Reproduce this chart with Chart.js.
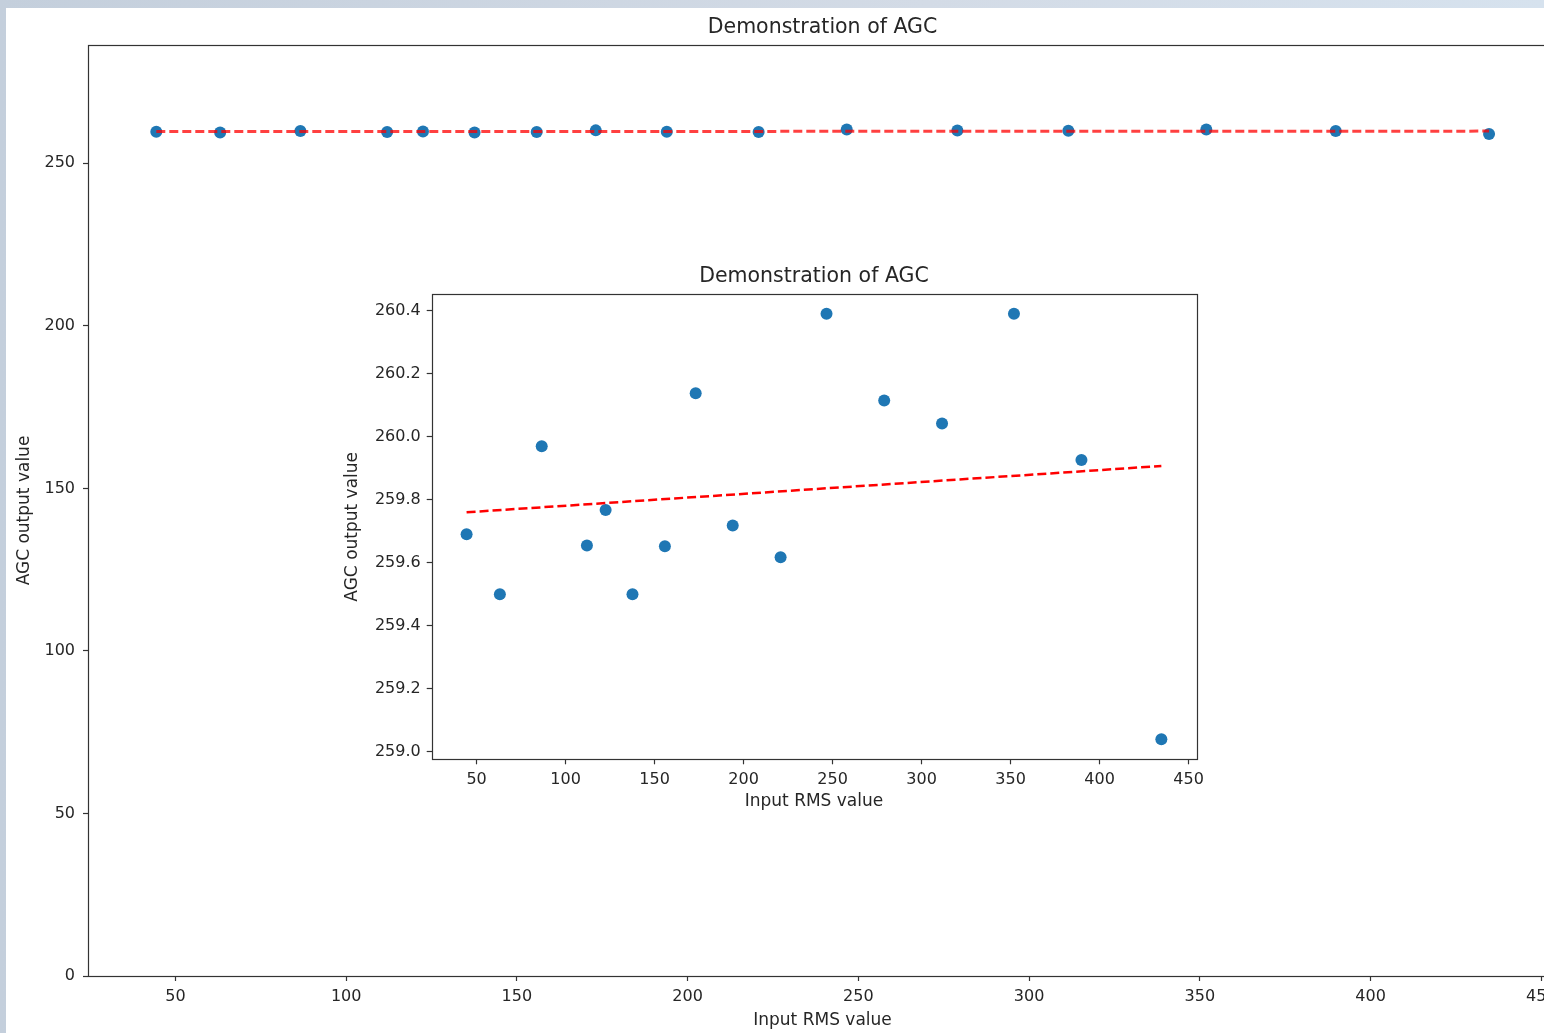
<!DOCTYPE html>
<html>
<head>
<meta charset="utf-8">
<script src="https://cdn.jsdelivr.net/npm/chart.js@4"></script>
<style>
  html, body { margin: 0; padding: 0; overflow: hidden; width: 1544px; height: 1033px; }
  body { background: linear-gradient(90deg, #c4cfdc 0%, #d3dbe6 60%, #d6e2ee 100%); position: relative; }
  #panel { position: absolute; left: 6px; top: 8px; width: 1600px; height: 1100px; background: #fff; }
  #mainChart { position: absolute; left: 0; top: 0; }
  #insetChart { position: absolute; left: 330px; top: 255px; }
</style>
</head>
<body>
<div id="panel"></div>
<canvas id="mainChart" width="1580" height="1033"></canvas>
<canvas id="insetChart" width="880" height="560"></canvas>
<script>
// Input RMS values (x) and the AGC output for each (y)
const inputRms = [44.4, 63.1, 86.6, 112.0, 122.5, 137.6, 155.8, 173.1, 193.9, 220.8, 246.6, 279.0, 311.5, 351.9, 389.8, 434.7];
const agcOutput = [259.69, 259.50, 259.97, 259.655, 259.767, 259.50, 259.652, 260.138, 259.718, 259.617, 260.39, 260.115, 260.042, 260.39, 259.926, 259.04];

// fitted trend line at both ends
const fitX = [44.4, 434.7];
const fitY = [259.76, 259.907];

// tick labels
const xTicks = [50, 100, 150, 200, 250, 300, 350, 400, 450];
const mainYTicks = [0, 50, 100, 150, 200, 250];
const insetYTicks = [259.0, 259.2, 259.4, 259.6, 259.8, 260.0, 260.2, 260.4];

const textColor = '#262626';
const axisColor = '#333';
const fontFamily = "'DejaVu Sans', sans-serif";

const pointsOf = (xs, ys) => xs.map((x, i) => ({ x: x, y: ys[i] }));

// draws the matplotlib style box round the axes
const framePlugin = {
    id: 'frame',
    beforeDraw(chart) {
        const a = chart.chartArea;
        const ctx = chart.ctx;
        ctx.save();
        ctx.fillStyle = '#fff';
        ctx.fillRect(a.left, a.top, a.right - a.left, a.bottom - a.top);
        ctx.restore();
    },
    afterDraw(chart) {
        const a = chart.chartArea;
        const ctx = chart.ctx;
        ctx.save();
        ctx.strokeStyle = axisColor;
        ctx.lineWidth = 1.2;
        ctx.strokeRect(Math.round(a.left) + 0.5, Math.round(a.top) + 0.5,
            Math.round(a.right - a.left), Math.round(a.bottom - a.top));
        ctx.restore();
    }
};

function makeChart(canvasId, opts) {
    const ctx = document.getElementById(canvasId).getContext('2d');
    return new Chart(ctx, {
        type: 'scatter',
        data: {
            datasets: [{
                label: 'fit',
                data: pointsOf(fitX, fitY),
                showLine: true,
                borderColor: opts.lineColor,
                borderWidth: opts.lineWidth,
                borderDash: [9, 4],
                pointRadius: 0,
                order: 0,
            }, {
                label: 'AGC output',
                data: pointsOf(inputRms, agcOutput),
                backgroundColor: '#1f77b4',
                borderColor: '#1f77b4',
                borderWidth: 0,
                pointRadius: 6,
                order: 1,
            }],
        },
        options: {
            responsive: false,
            animation: false,
            layout: { padding: { left: 0, top: 0, right: opts.padRight, bottom: 0 } },
            plugins: {
                legend: { display: false },
                tooltip: { enabled: false },
                title: {
                    display: true,
                    fullSize: false,
                    text: 'Demonstration of AGC',
                    color: textColor,
                    font: { family: fontFamily, size: 20.5, weight: 'normal' },
                    padding: { top: opts.titleTop, bottom: opts.titleBottom },
                },
            },
            scales: {
                x: {
                    type: 'linear',
                    min: opts.xMin,
                    max: opts.xMax,
                    afterBuildTicks: s => { s.ticks = xTicks.map(v => ({ value: v })); },
                    afterFit: s => { s.height = opts.xHeight; },
                    border: { display: false },
                    grid: { display: true, drawOnChartArea: false, drawTicks: true, tickLength: 5, tickColor: axisColor, tickWidth: 1.2 },
                    ticks: { color: textColor, padding: 6, maxRotation: 0, font: { family: fontFamily, size: 16 } },
                    title: {
                        display: true,
                        text: 'Input RMS value',
                        color: textColor,
                        font: { family: fontFamily, size: 17 },
                        padding: { top: 0, bottom: opts.xTitlePad },
                    },
                },
                y: {
                    type: 'linear',
                    min: opts.yMin,
                    max: opts.yMax,
                    afterBuildTicks: s => { s.ticks = opts.yTicks.map(v => ({ value: v })); },
                    afterFit: s => { s.width = opts.yWidth; },
                    border: { display: false },
                    grid: { display: true, drawOnChartArea: false, drawTicks: true, tickLength: 5, tickColor: axisColor, tickWidth: 1.2 },
                    ticks: {
                        color: textColor,
                        padding: opts.yTickPad,
                        font: { family: fontFamily, size: 16 },
                        callback: opts.yFormat,
                    },
                    title: {
                        display: true,
                        text: 'AGC output value',
                        color: textColor,
                        font: { family: fontFamily, size: 17 },
                        padding: { top: opts.yTitlePad, bottom: 0 },
                    },
                },
            },
        },
        plugins: [framePlugin],
    });
}

// main axes: area 88..1557 x 45..976
makeChart('mainChart', {
    lineColor: 'rgba(255, 0, 0, 0.75)',
    lineWidth: 3,
    padRight: 23,
    titleTop: 15.7,
    titleBottom: 4.7,
    xMin: 24.4, xMax: 454.6,
    yMin: 0, yMax: 286.4,
    yTicks: mainYTicks,
    xHeight: 57,
    yWidth: 88,
    yTickPad: 8,
    xTitlePad: 2.4,
    yTitlePad: 14.2,
    yFormat: v => String(v),
});

// inset axes
makeChart('insetChart', {
    lineColor: '#ff0000',
    lineWidth: 2.5,
    padRight: 12.3,
    titleTop: 9.7,
    titleBottom: 5.0,
    xMin: 24.8, xMax: 454.3,
    yMin: 258.976, yMax: 260.452,
    yTicks: insetYTicks,
    xHeight: 55.7,
    yWidth: 101.7,
    yTickPad: 6,
    xTitlePad: 3.4,
    yTitlePad: 12.6,
    yFormat: v => Number(v).toFixed(1),
});
</script>
</body>
</html>
